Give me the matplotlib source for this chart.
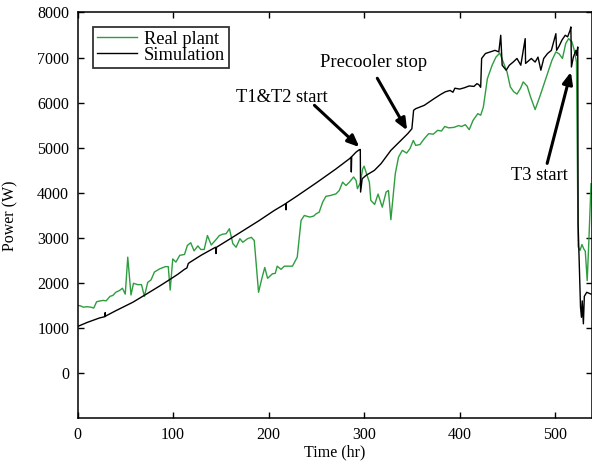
import matplotlib
matplotlib.use("Agg")
import matplotlib.pyplot as plt

plt.rcParams['font.family'] = ['Liberation Serif', 'DejaVu Serif']

# Real plant (green)
real_t = [0, 3, 6, 10, 14, 17, 20, 24, 27, 30, 34, 37, 40, 44, 47, 50, 52.6, 56, 58.6, 63, 67, 70,
          73.5, 77, 80.5, 86, 92, 95, 97, 99.7, 103, 107, 112, 115, 118.5, 122, 126, 129, 132.6,
          136, 140, 145, 148.5, 152, 155.5, 159, 162.6, 166, 170, 173, 178, 182, 185, 189.5, 193,
          196, 199, 204, 207, 209, 213, 216.5, 221, 225, 230, 234, 237.4, 243, 247, 249.7, 253,
          256.6, 260, 265, 270.6, 274, 277.5, 281, 284.6, 289, 291.6, 293, 296, 298.5, 300, 303,
          305.5, 307, 311, 314.6, 319, 323, 325.5, 328, 332.6, 336, 340, 344.5, 348, 351.5, 354,
          358.5, 363, 367.6, 372.5, 377, 381, 384.4, 388.5, 394, 399, 402, 406, 410, 414, 419,
          422, 424.8, 429, 434, 438, 442, 446, 449.6, 453, 456.6, 460, 463.8, 466.5, 470.7, 474,
          479, 484, 488.6, 492, 496.6, 500.7, 504, 507.6, 511, 514, 517.5, 520, 522.3, 524, 526,
          528, 530, 531.5, 533.5, 535, 537.5]
real_p = [1500, 1490, 1460, 1470, 1460, 1440, 1580, 1600, 1610, 1600, 1700, 1720, 1790, 1830, 1880,
          1750, 2570, 1730, 1990, 1960, 1960, 1700, 2010, 2065, 2240, 2310, 2360, 2360, 1840, 2530,
          2460, 2610, 2630, 2830, 2890, 2710, 2820, 2740, 2740, 3050, 2840, 2960, 3050, 3080, 3090,
          3200, 2870, 2790, 2980, 2900, 2980, 3010, 2940, 1790, 2100, 2340, 2100, 2200, 2210, 2370,
          2300, 2370, 2370, 2370, 2570, 3385, 3495, 3460, 3480, 3530, 3570, 3790, 3920, 3940, 3975,
          4050, 4235, 4160, 4235, 4350, 4270, 4090, 4220, 4530, 4590, 4390, 4235, 3830, 3740, 3970,
          3680, 4015, 4050, 3400, 4420, 4790, 4940, 4880, 4980, 5160, 5050, 5070, 5200, 5310, 5300,
          5385, 5370, 5470, 5440, 5450, 5490, 5470, 5510, 5400, 5605, 5755, 5720, 5900, 6530, 6830,
          7010, 7100, 6880, 6680, 6350, 6240, 6190, 6320, 6460, 6365, 6140, 5845, 6140, 6430, 6645,
          6940, 7125, 7085, 6980, 7310, 7420, 7350, 7160, 6900, 2800, 2720, 2850, 2750, 2700, 2050,
          2800, 4200]

# Simulation (black)
sim_t = [0, 10, 23, 28.8, 29, 29.2, 40, 58, 72.5, 86, 96, 105, 112, 114.5, 116, 118, 130, 144.5,
         145, 145.5, 160, 175, 190, 206, 215, 218, 218.3, 218.6, 230, 250, 270, 285, 286.3, 286.6,
         287, 291.5, 295, 296, 296.3, 298, 302, 310.7, 317.7, 328, 345.6, 350, 351.8, 354, 363,
         373.4, 380, 385, 390, 393, 395, 400, 405, 410, 415, 418, 420, 422, 423, 427, 432, 437,
         441, 443, 444.5, 448.7, 452, 456, 460, 464, 468.6, 469, 475, 479, 482, 485, 488, 492,
         496, 500.7, 501.5, 504, 507, 510.5, 513, 515.6, 516.4, 517, 519, 521.7, 522.5, 523.6,
         524, 526.5, 527.5, 528.3, 529.5, 530.5, 533, 537.5]
sim_p = [1030, 1120, 1220, 1250, 1340, 1260, 1380, 1570, 1755, 1930, 2065, 2190, 2300, 2330, 2430,
         2460, 2620, 2790, 2650, 2790, 2980, 3180, 3380, 3607, 3720, 3760, 3620, 3770, 3930, 4220,
         4520, 4760, 4790, 4460, 4800, 4900, 4955, 4960, 4015, 4310, 4385, 4495, 4645, 4940, 5310,
         5420, 5830, 5865, 5940, 6090, 6180, 6240, 6270, 6230, 6320, 6300, 6330, 6370, 6360, 6420,
         6400, 6340, 6980, 7090, 7125, 7160, 7125, 7495, 6830, 6720, 6830, 6900, 6980, 6830, 7420,
         6870, 6980, 6900, 7010, 6720, 6980, 7090, 7160, 7530, 7160, 7250, 7385, 7495, 7460, 7605,
         7680, 6790, 7010, 7160, 7050, 7235, 3300, 1460, 1235, 1600, 1090, 1700, 1790, 1750]

fig = plt.figure(figsize=(5.92, 4.61), dpi=100)
ax = fig.add_axes([77.5 / 592, (461 - 418) / 461, (591.5 - 77.5) / 592, (418 - 12.5) / 461])

ax.plot(real_t, real_p, color='#2e9d3f', lw=1.0, label='Real plant')
ax.plot(sim_t, sim_p, color='black', lw=1.0, label='Simulation')

ax.set_xlim(0, 538)
ax.set_ylim(-1000, 8000)
ax.set_xticks([0, 100, 200, 300, 400, 500])
ax.set_yticks(range(0, 9000, 1000))
ax.tick_params(direction='in', top=True, right=True, length=4, width=1,
               labelsize=11.5, colors='black')
ax.tick_params(axis='x', pad=6.5)
ax.tick_params(axis='y', pad=6)
for s in ax.spines.values():
    s.set_linewidth(1.1)

ax.set_ylabel('Power (W)', fontsize=11.5)
ax.set_xlabel('Time (hr)', fontsize=11.5)
ax.yaxis.set_label_coords(-0.115, 0.5)
ax.xaxis.set_label_coords(0.5, -0.066)

leg = ax.legend(loc='upper left', bbox_to_anchor=(0.031, 0.964), borderaxespad=0,
                fontsize=13.2, frameon=True, fancybox=False, edgecolor='black',
                labelspacing=-0.05, handlelength=2.2, handletextpad=0.35, borderpad=0.2)
leg.get_frame().set_linewidth(1.3)

arrow = dict(arrowstyle='-|>,head_length=0.7,head_width=0.3', lw=2.2, color='black',
             shrinkA=0, shrinkB=0)
ax.text(213.4, 6118, 'T1&T2 start', fontsize=13.3, ha='center', va='center')
ax.annotate('', xy=(295, 5013), xytext=(248, 5940), arrowprops=arrow)
ax.text(309.6, 6896, 'Precooler stop', fontsize=13.3, ha='center', va='center')
ax.annotate('', xy=(345, 5384), xytext=(313.8, 6540), arrowprops=arrow)
ax.text(483.3, 4384, 'T3 start', fontsize=13.3, ha='center', va='center')
ax.annotate('', xy=(516.4, 6680), xytext=(491.6, 4651), arrowprops=arrow)

fig.savefig('out.png', dpi=100)
